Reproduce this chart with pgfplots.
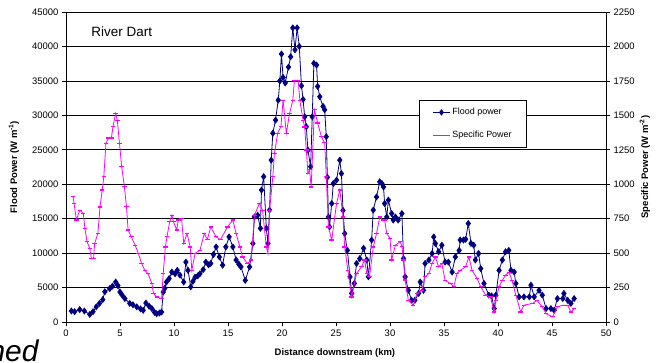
\documentclass[border=0pt]{standalone}
\usepackage{pgfplots}
\pgfplotsset{compat=1.18}
\usepackage{fontspec}
\setmainfont{Liberation Sans}
\definecolor{navy}{HTML}{000080}
\definecolor{mag}{HTML}{FF00FF}

\pgfplotstableread{
km flood
0.5 1600
0.8 1500
1.27 1800
1.7 1600
2.2 1100
2.5 1500
2.8 2200
3.1 2700
3.4 3250
3.6 4400
4.05 4850
4.3 5200
4.6 5800
4.8 5300
5.0 4350
5.2 3900
5.45 3400
5.9 2700
6.2 2500
6.55 2200
6.9 1900
7.15 1700
7.4 2750
7.7 2300
7.95 1950
8.2 1400
8.4 1200
8.65 1300
8.85 1450
9.0 4350
9.15 4900
9.3 5800
9.55 6300
9.8 7250
10.1 7000
10.3 7500
10.55 6800
10.9 5800
11.1 8700
11.3 7500
11.55 5100
11.75 5900
11.95 6500
12.2 6700
12.4 7000
12.7 7600
12.95 8700
13.2 8300
13.4 8500
13.65 9800
13.9 10900
14.2 9450
14.5 8250
14.8 10900
15.1 12350
15.45 10900
15.75 9000
16.0 8400
16.2 8000
16.6 6050
17.0 8000
17.3 11400
17.45 15250
17.75 15500
18.0 13600
18.1 19150
18.3 21100
18.55 13600
18.7 11400
18.85 16250
19.0 23500
19.15 27400
19.4 29300
19.65 32200
19.8 35000
19.95 38900
20.1 35500
20.3 34700
20.6 37000
20.8 38500
21.0 42700
21.2 39500
21.4 42700
21.6 40000
21.8 34300
21.95 32300
22.1 29800
22.25 28350
22.4 24950
22.65 22550
22.8 29800
22.95 37550
23.2 37300
23.3 34200
23.5 32700
23.8 31300
23.95 30800
24.1 26900
24.2 21000
24.3 15250
24.4 13800
24.6 17200
24.75 20100
25.05 20600
25.35 23500
25.5 21550
25.65 16200
25.8 12850
26.05 10400
26.3 6550
26.45 4150
26.7 5600
26.9 8500
27.2 9200
27.55 10700
27.85 9000
28.0 6550
28.3 11900
28.45 16250
28.75 18150
29.05 20350
29.25 20100
29.4 19600
29.5 17200
29.7 15250
29.85 17700
30.15 15750
30.3 14800
30.5 15250
30.75 14800
31.1 15750
31.25 9200
31.4 6550
31.7 4600
32.0 3150
32.3 3150
32.65 4150
32.8 5800
33.1 4600
33.25 8500
33.6 9000
33.9 9950
34.05 12350
34.2 11400
34.5 10200
34.8 11150
35.1 8700
35.4 8700
35.75 7250
36.05 9450
36.4 10400
36.5 11900
36.8 11900
37.0 12000
37.25 14300
37.5 11400
37.75 11150
37.9 9000
38.2 9950
38.4 7750
38.7 5600
39.15 3900
39.4 3800
39.65 1950
39.8 3900
40.1 7500
40.4 9000
40.7 10200
41.0 10400
41.2 7500
41.5 7250
41.65 5600
41.95 3650
42.4 3650
42.9 3650
43.05 5350
43.35 3650
43.8 4600
44.1 3900
44.45 1950
44.9 1950
45.2 1700
45.5 3400
46.0 3400
46.1 4150
46.45 3150
46.75 2700
47.05 3400
}\floodtable

\pgfplotstableread{
km spec
0.65 910
0.75 860
0.96 740
1.27 812
1.6 788
1.75 680
1.95 582
2.2 535
2.35 460
2.55 460
2.65 570
2.95 642
3.15 835
3.35 958
3.5 1055
3.7 1298
3.95 1335
4.2 1335
4.35 1418
4.6 1515
4.75 1465
4.95 1298
5.15 1130
5.4 985
5.6 838
5.75 668
6.05 618
6.4 558
6.7 498
7.0 425
7.3 375
7.6 350
7.95 280
8.1 208
8.4 182
8.85 170
9.0 350
9.2 545
9.35 618
9.6 728
9.8 775
9.95 728
10.25 668
10.4 740
10.7 750
10.9 570
11.2 642
11.5 545
11.65 375
11.95 498
12.4 520
12.8 642
13.1 600
13.4 690
13.9 618
14.3 598
14.95 690
15.45 740
15.75 642
16.1 545
16.35 472
16.8 425
17.15 450
17.45 775
17.9 860
18.2 812
18.55 545
18.7 498
18.85 812
19.15 1055
19.3 1225
19.6 1370
19.9 1418
20.1 1610
20.4 1370
20.7 1515
21.0 1610
21.15 1755
21.5 1755
21.65 1610
21.95 1465
22.1 1415
22.25 1248
22.4 1080
22.55 1105
22.7 980
23.0 1540
23.3 1445
23.65 1345
23.95 1300
24.1 1055
24.3 690
24.6 595
25.05 860
25.35 958
25.65 762
25.8 545
26.1 375
26.45 182
26.9 352
27.35 400
27.65 450
27.85 352
28.1 328
28.45 545
28.75 642
29.05 762
29.35 740
29.5 740
29.7 642
30.0 608
30.15 450
30.5 558
30.95 582
31.1 550
31.25 450
31.4 305
31.7 158
32.15 122
32.5 208
32.95 230
33.25 328
33.6 352
33.9 425
34.2 472
34.5 400
34.8 425
35.1 302
35.6 280
35.9 255
36.2 352
36.5 375
37.0 400
37.3 472
37.6 375
38.05 318
38.4 255
38.85 195
39.3 182
39.65 72
39.8 158
40.1 255
40.4 302
40.7 340
41.0 362
41.3 302
41.65 195
42.1 72
42.4 122
43.2 135
43.6 158
44.1 110
44.45 60
45.05 38
45.5 110
46.0 122
46.45 122
46.75 72
47.05 98
}\spectable

\pgfplotsset{
  common/.style={
    at={(66bp,40bp)}, anchor=south west,
    width=540bp, height=310bp, scale only axis,
    xmin=0, xmax=50,
    tick align=outside, major tick length=4bp,
    tick style={black, line width=0.6bp},
    axis line style={black, line width=0.6bp, -},
    /pgf/number format/assume math mode=true,
    /pgf/number format/1000 sep={},
    scaled y ticks=false,
    tick label style={font=\fontsize{9.5}{11}\selectfont},
    label style={font=\bfseries\fontsize{9.5}{11}\selectfont},
  }
}

\begin{document}
\begin{tikzpicture}[x=1bp,y=1bp]
\path[use as bounding box] (0,0) rectangle (656,362);
\begin{axis}[common,
  ymin=0, ymax=45000,
  xtick={0,5,...,50}, ytick={0,5000,...,45000},
  axis x line*=bottom, axis y line*=left,
  ymajorgrids, grid style={black, line width=0.6bp},
  xlabel={Distance downstream (km)},
  xlabel style={at={(axis description cs:0.498,-0.1)}, anchor=center},
  ylabel={Flood Power (W m\textsuperscript{-1})},
  ylabel style={at={(axis description cs:-0.0963,0.5)}, anchor=center},
]
\addplot[navy, line width=0.8bp, mark=diamond*, mark size=2.9bp,
  mark options={fill=navy, draw=navy}] table[x=km, y=flood] {\floodtable};
\node[anchor=west, font=\fontsize{13.5}{15}\selectfont] at (rel axis cs:0.0407,0.935) {River Dart};
\end{axis}
\begin{axis}[common,
  ymin=0, ymax=2250, ytick={0,250,...,2250},
  axis x line=none, axis y line*=right,
  ylabel={Specific Power (W m\textsuperscript{-2})},
  ylabel style={at={(axis description cs:1.072,0.5)}, anchor=center, rotate=0},
  legend style={at={(rel axis cs:0.654,0.716)}, anchor=north west,
    draw=black, line width=0.8bp, fill=white,
    font=\fontsize{9}{10}\selectfont, inner xsep=13bp, inner ysep=6bp,
    row sep=11bp},
  legend cell align=left,
]
\addlegendimage{navy, line width=0.8bp, mark=diamond*, mark size=2.6bp, mark options={fill=navy}}
\addlegendentry{Flood power}
\addplot[mag, line width=0.8bp, mark=-, mark size=2.2bp, mark options={mag, line width=1.2bp}]
  table[x=km, y=spec] {\spectable};
\addlegendentry{Specific Power}
\end{axis}
\node[anchor=base west, font=\itshape\fontsize{30}{32}\selectfont] at (-15,1) {ned};
\end{tikzpicture}
\end{document}
